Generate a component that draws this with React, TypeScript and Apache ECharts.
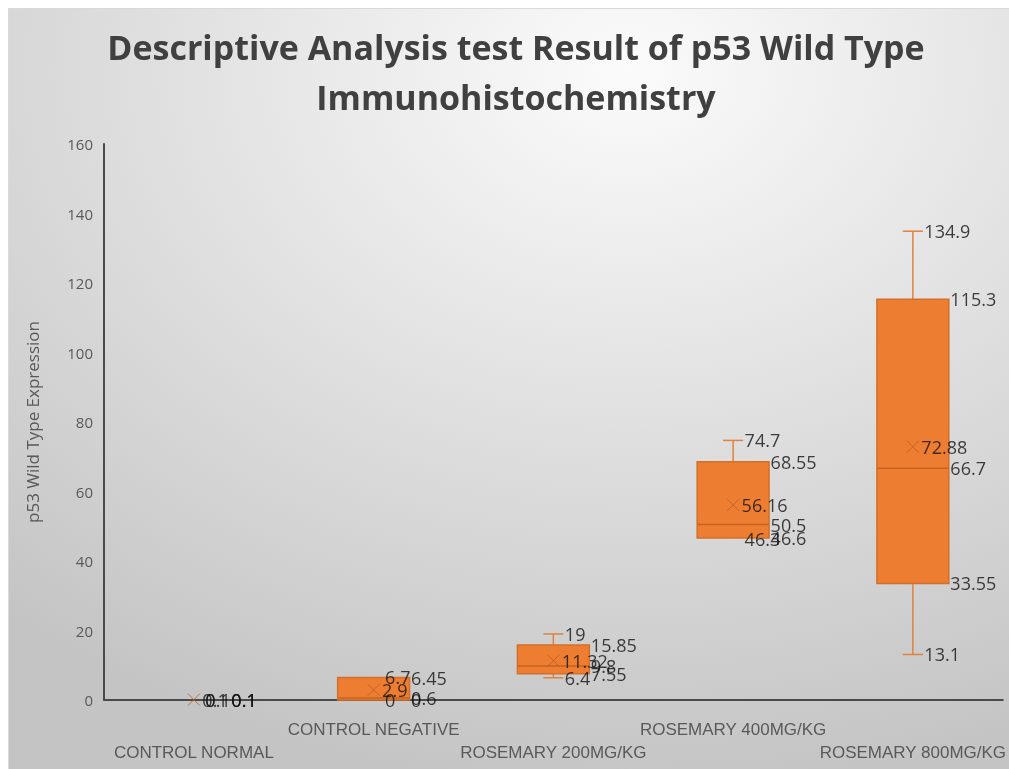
import React, { useEffect, useRef } from 'react';
import * as echarts from 'echarts';

const categories = ['CONTROL NORMAL', 'CONTROL NEGATIVE', 'ROSEMARY 200MG/KG', 'ROSEMARY 400MG/KG', 'ROSEMARY 800MG/KG'];
const minValues = [0, 0, 6.4, 46.3, 13.1];
const q1Values = [0.1, 0, 7.55, 46.6, 33.55];
const medianValues = [0.1, 0.6, 9.8, 50.5, 66.7];
const q3Values = [0.1, 6.45, 15.85, 68.55, 115.3];
const maxValues = [0.1, 6.7, 19, 74.7, 134.9];
const meanValues = [0.1, 2.9, 11.32, 56.16, 72.88];
const yMin = 0;
const yMax = 160;
const yInterval = 20;

const titleText = 'Descriptive Analysis test Result of p53 Wild Type\nImmunohistochemistry';
const yAxisName = 'p53 Wild Type Expression';

export default function App() {
  const ref = useRef<HTMLDivElement>(null);
  useEffect(() => {
    if (!ref.current) return;
    const chart = echarts.init(ref.current, undefined, { renderer: 'svg' });
    const boxData = categories.map((_, i) => [i, minValues[i], q1Values[i], medianValues[i], q3Values[i], maxValues[i], meanValues[i]]);
    const whiskerLabelData = categories.flatMap((_, i) => [[i, maxValues[i]], [i, minValues[i]]]);
    const meanLabelData = categories.map((_, i) => [i, meanValues[i]]);
    const edgeLabelData = categories.flatMap((_, i) => [[i, q3Values[i]], [i, medianValues[i]], [i, q1Values[i]]]);
    const labelFont = '"Open Sans", "Liberation Sans", sans-serif';
    const labelStyle = (distance: number) => ({
      show: true,
      position: 'right',
      distance,
      color: '#111111',
      fontSize: 18,
      fontFamily: labelFont,
      formatter: (p: any) => String(p.value[1]),
    });
    chart.setOption({
      animation: false,
      backgroundColor: new echarts.graphic.RadialGradient(0.62, 0.08, 0.95, [
        { offset: 0, color: '#fbfbfb' },
        { offset: 1, color: '#c4c4c4' },
      ]),
      title: {
        text: titleText,
        left: 502,
        top: 8,
        textAlign: 'center',
        textStyle: {
          fontFamily: '"Open Sans", sans-serif',
          fontWeight: 'bold',
          fontSize: 34,
          lineHeight: 50,
          color: '#404040',
        },
      },
      grid: { left: 95, right: 4, top: 135, bottom: 69, containLabel: false },
      xAxis: {
        type: 'category',
        data: categories,
        axisTick: { show: false },
        axisLine: { lineStyle: { color: '#4a4a4a', width: 2 } },
        axisLabel: {
          interval: 0,
          margin: 18,
          color: '#595959',
          fontSize: 17,
          lineHeight: 23,
          fontFamily: '"Liberation Sans Narrow", "Liberation Sans", sans-serif',
          formatter: (v: string, i: number) => (i % 2 === 0 ? '\n' + v : v),
        },
      },
      yAxis: {
        type: 'value',
        min: yMin,
        max: yMax,
        interval: yInterval,
        name: yAxisName,
        nameLocation: 'middle',
        nameGap: 63,
        nameTextStyle: { color: '#595959', fontSize: 17, fontFamily: '"Open Sans", sans-serif' },
        axisLine: { show: true, lineStyle: { color: '#4a4a4a', width: 2 } },
        axisTick: { show: false },
        splitLine: { show: false },
        axisLabel: { color: '#595959', fontSize: 15, margin: 11, fontFamily: '"Open Sans", sans-serif' },
      },
      series: [
        {
          type: 'custom',
          data: boxData,
          z: 2,
          renderItem: (params: any, api: any) => {
            const idx = api.value(0);
            const pMin = api.coord([idx, api.value(1)]);
            const cx = pMin[0];
            const yMinP = pMin[1];
            const yQ1 = api.coord([idx, api.value(2)])[1];
            const yMed = api.coord([idx, api.value(3)])[1];
            const yQ3 = api.coord([idx, api.value(4)])[1];
            const yMaxP = api.coord([idx, api.value(5)])[1];
            const yMean = api.coord([idx, api.value(6)])[1];
            const band = api.size([1, 0])[0];
            const half = band * 0.2;
            const cap = band * 0.056;
            const m = 6;
            const whisker = { stroke: '#E0813F', lineWidth: 1.5 };
            const children: any[] = [];
            if (yQ3 - yMaxP >= 2) {
              children.push({ type: 'line', shape: { x1: cx, y1: yMaxP, x2: cx, y2: yQ3 }, style: whisker });
              children.push({ type: 'line', shape: { x1: cx - cap, y1: yMaxP, x2: cx + cap, y2: yMaxP }, style: whisker });
            }
            if (yMinP - yQ1 >= 2) {
              children.push({ type: 'line', shape: { x1: cx, y1: yQ1, x2: cx, y2: yMinP }, style: whisker });
              children.push({ type: 'line', shape: { x1: cx - cap, y1: yMinP, x2: cx + cap, y2: yMinP }, style: whisker });
            }
            if (yQ1 - yQ3 >= 1) {
              children.push({
                type: 'rect',
                shape: { x: cx - half, y: yQ3, width: half * 2, height: yQ1 - yQ3 },
                style: { fill: '#ED7D31', stroke: '#D2702B', lineWidth: 1.5 },
              });
              children.push({ type: 'line', shape: { x1: cx - half, y1: yMed, x2: cx + half, y2: yMed }, style: { stroke: '#C4641F', lineWidth: 1.5 } });
            }
            children.push({ type: 'line', shape: { x1: cx - m, y1: yMean - m, x2: cx + m, y2: yMean + m }, style: { stroke: '#B9622A', lineWidth: 1, opacity: 0.85 } });
            children.push({ type: 'line', shape: { x1: cx - m, y1: yMean + m, x2: cx + m, y2: yMean - m }, style: { stroke: '#B9622A', lineWidth: 1, opacity: 0.85 } });
            return { type: 'group', children };
          },
        },
        {
          type: 'scatter',
          data: whiskerLabelData,
          symbolSize: 1,
          itemStyle: { color: 'transparent' },
          z: 5,
          label: labelStyle(11),
        },
        {
          type: 'scatter',
          data: meanLabelData,
          symbolSize: 1,
          itemStyle: { color: 'transparent' },
          z: 5,
          label: labelStyle(8),
        },
        {
          type: 'scatter',
          data: edgeLabelData,
          symbolSize: 1,
          itemStyle: { color: 'transparent' },
          z: 5,
          label: labelStyle(37),
        },
      ],
    });
    return () => chart.dispose();
  }, []);
  return (
    <div
      ref={ref}
      style={{ position: 'fixed', left: 8, top: 8, width: 1001, height: 761, borderTop: '1px solid #d9d9d9', borderLeft: '1px solid #d9d9d9', boxSizing: 'border-box' }}
    />
  );
}
